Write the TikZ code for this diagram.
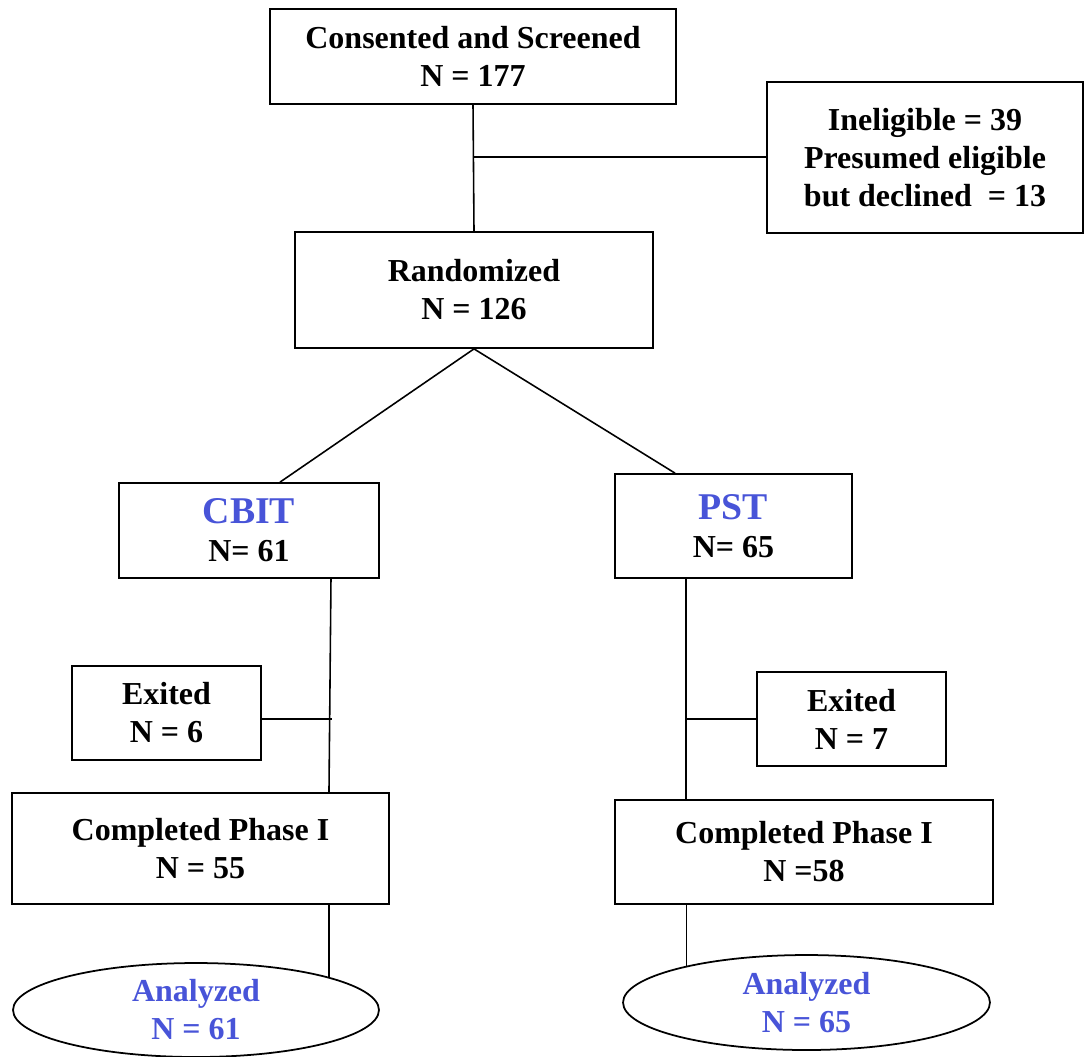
\documentclass[tikz,border=0pt]{standalone}
\usepackage{fontspec}
\setmainfont{Liberation Serif}
\usetikzlibrary{shapes.geometric}

\definecolor{armblue}{RGB}{72, 84, 216}

\tikzset{
  stagebox/.style={draw, line width=1pt, inner sep=0pt, align=center,
    font=\fontsize{18.2}{21.6}\selectfont\bfseries},
  outcome/.style={ellipse, draw, line width=1pt, inner sep=0pt, align=center,
    text=armblue, font=\fontsize{18.2}{21.6}\selectfont\bfseries},
  link/.style={line width=0.9pt}
}

\begin{document}
\begin{tikzpicture}[x=0.02cm, y=-0.02cm]
    \useasboundingbox (0,0) rectangle (1084,1056);

    % Screening and exclusions
    \node[stagebox, minimum width=8.12cm, minimum height=1.9cm] (screen) at (473,56.5)
      {Consented and Screened\\N = 177};
    \node[stagebox, minimum width=6.32cm, minimum height=3.02cm] (inelig) at (925,157.5)
      {Ineligible = 39\\Presumed eligible\\ but declined \ = 13};

    % Randomization
    \node[stagebox, minimum width=7.16cm, minimum height=2.32cm] (rand) at (474,290)
      {Randomized\\N = 126};

    % Treatment arms
    \node[stagebox, minimum width=5.2cm, minimum height=1.9cm] (cbit) at (249,530.5)
      {{\fontsize{21.5}{25}\selectfont\color{armblue}CBIT}\\N= 61};
    \node[stagebox, minimum width=4.74cm, minimum height=2.08cm] (pst) at (733.5,526)
      {{\fontsize{21.5}{25}\selectfont\color{armblue}PST}\\N= 65};

    % Drop-outs
    \node[stagebox, minimum width=3.78cm, minimum height=1.88cm] (exitc) at (166.5,713)
      {Exited\\N = 6};
    \node[stagebox, minimum width=3.78cm, minimum height=1.88cm] (exitp) at (851.5,719)
      {Exited\\N = 7};

    % Phase I completers
    \node[stagebox, minimum width=7.54cm, minimum height=2.22cm] (compc) at (200.5,848.5)
      {Completed Phase I\\N = 55};
    \node[stagebox, minimum width=7.56cm, minimum height=2.08cm] (compp) at (804,852)
      {Completed Phase I\\N =58};

    % Analysed samples
    \node[outcome, minimum width=7.32cm, minimum height=1.88cm] (anac) at (196,1010)
      {Analyzed\\N = 61};
    \node[outcome, minimum width=7.34cm, minimum height=1.9cm] (anap) at (806.5,1002.5)
      {Analyzed\\N = 65};

    % Connectors
    \draw[link] (screen.south) -- (rand.north);
    \coordinate (split) at (473,157);
    \draw[link] (split) -- (split -| inelig.west);
    \draw[link] (rand.south) -- ([xshift=0.62cm]cbit.north);
    \draw[link] (rand.south) -- ([xshift=-1.17cm]pst.north);

    \draw[link] ([xshift=1.64cm]cbit.south) -- ([xshift=2.57cm]compc.north);
    \coordinate (tapc) at (332,719);
    \draw[link] (exitc.east |- tapc) -- (tapc);
    \draw[link] ([xshift=-0.95cm]pst.south) -- ([xshift=-2.36cm]compp.north);
    \coordinate (tapp) at (686,719);
    \draw[link] (tapp) -- (exitp.west |- tapp);

    \draw[link] (compc.south -| anac.14) -- (anac.14);
    \draw[link] (compp.south -| anap.163) -- (anap.163);
  \end{tikzpicture}
\end{document}
